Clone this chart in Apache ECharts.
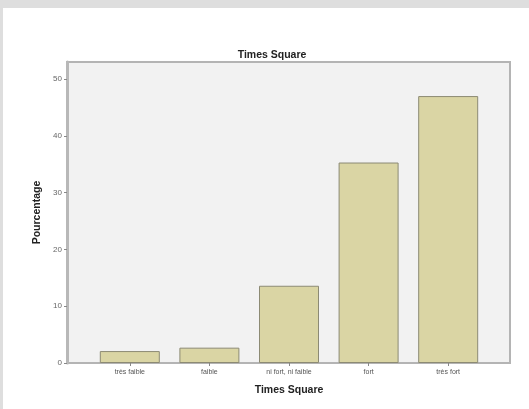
<!DOCTYPE html>
<html>
<head>
<meta charset="utf-8">
<script src="https://cdn.jsdelivr.net/npm/echarts@6/dist/echarts.min.js"></script>
<style>
  html, body { margin: 0; padding: 0; width: 529px; height: 409px; overflow: hidden; background: #dedede; }
  #paper { position: absolute; left: 3px; top: 8px; width: 526px; height: 401px; background: #ffffff; }
  #chart { position: absolute; left: 0; top: 0; width: 529px; height: 409px; }
</style>
</head>
<body>
<div id="paper"></div>
<div id="chart"></div>
<script>
const categories = ['très faible', 'faible', 'ni fort, ni faible', 'fort', 'très fort'];
const percentages = [2.1, 2.7, 13.6, 35.3, 47.0];
const chartTitle = 'Times Square';
const xAxisTitle = 'Times Square';
const yAxisTitle = 'Pourcentage';
const yMin = 0, yMax = 53, yStep = 10;

const chart = echarts.init(document.getElementById('chart'), null, { renderer: 'canvas' });
const font = '"Liberation Sans", Arial, sans-serif';

chart.setOption({
  backgroundColor: 'transparent',
  animation: false,
  title: {
    text: chartTitle,
    left: 267,
    textAlign: 'center',
    top: 45,
    textStyle: { fontFamily: font, fontSize: 10.5, fontWeight: 'bold', color: '#222' }
  },
  grid: [
    { // frame / plot area
      left: 67, right: 19, top: 62, bottom: 46,
      show: true, backgroundColor: '#f2f2f2', borderColor: '#b4b4b4', borderWidth: 2
    },
    { // bars
      left: 90, right: 41, top: 62, bottom: 46
    }
  ],
  xAxis: [
    { gridIndex: 0, type: 'value', min: 0, max: 1, show: false },
    {
      gridIndex: 1, type: 'category', data: categories,
      axisLine: { show: false },
      axisTick: { show: true, alignWithLabel: true, length: 3, lineStyle: { color: '#888' } },
      axisLabel: { fontFamily: font, fontSize: 7, color: '#555', margin: 6 },
      name: xAxisTitle, nameLocation: 'middle', nameGap: 22,
      nameTextStyle: { fontFamily: font, fontSize: 10.5, fontWeight: 'bold', color: '#222' }
    }
  ],
  yAxis: [
    {
      gridIndex: 0, type: 'value', min: yMin, max: yMax, interval: yStep,
      splitLine: { show: false },
      axisLine: { show: true, lineStyle: { color: '#b8b8b8', width: 3 } },
      axisTick: { show: true, length: 3, lineStyle: { color: '#888' } },
      axisLabel: { fontFamily: font, fontSize: 8, color: '#666', margin: 5,
        showMaxLabel: false },
      name: yAxisTitle, nameLocation: 'middle', nameGap: 22, nameRotate: 90,
      nameTextStyle: { fontFamily: font, fontSize: 10.5, fontWeight: 'bold', color: '#222' }
    },
    { gridIndex: 1, type: 'value', min: yMin, max: yMax, show: false }
  ],
  series: [{
    type: 'bar',
    xAxisIndex: 1, yAxisIndex: 1,
    data: percentages,
    barWidth: 60,
    itemStyle: { color: '#dad5a4', borderColor: '#8c8a74', borderWidth: 1 }
  }]
});
</script>
</body>
</html>
